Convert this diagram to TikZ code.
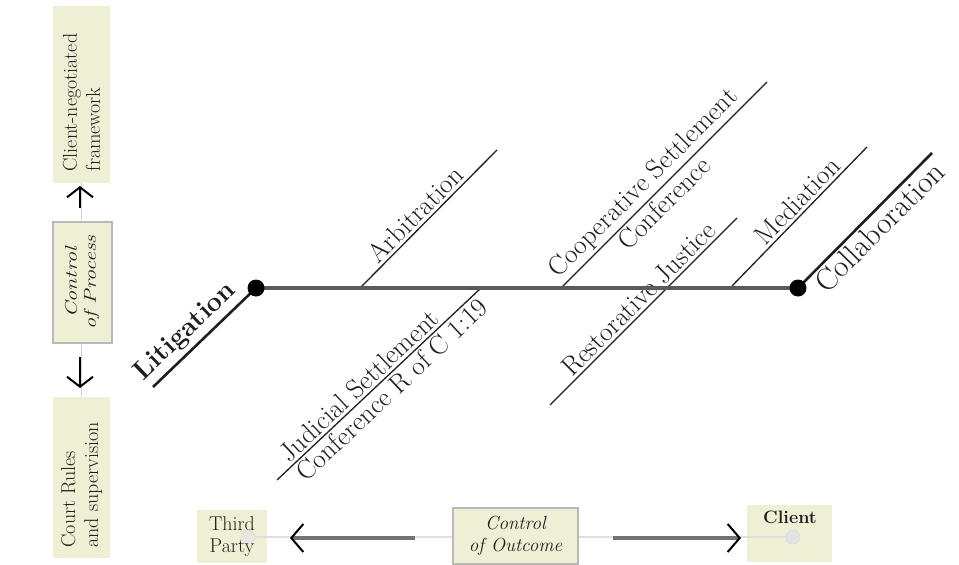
\documentclass[tikz,border=0pt]{standalone}
\usetikzlibrary{arrows.meta}
\definecolor{boxfill}{RGB}{239,239,213}
\definecolor{mainln}{RGB}{90,90,90}
\definecolor{inkc}{RGB}{30,30,30}
\begin{document}
\begin{tikzpicture}[x=1pt,y=-1pt,
  diag/.style={draw=inkc, line width=1.3pt},
  heavy/.style={draw=inkc, line width=2.6pt},
  lbl/.style={font=\fontsize{27}{29}\selectfont, text=inkc, inner sep=2.5pt, sloped},
  dotnode/.style={circle, fill=black, inner sep=0pt, minimum size=17pt},
  plainbox/.style={fill=boxfill, inner sep=0pt},
  framebox/.style={fill=boxfill, draw=gray!55, line width=1.5pt, inner sep=0pt},
  vtext/.style={font=\fontsize{20}{23}\selectfont, text=inkc},
  btext/.style={font=\fontsize{20}{22}\selectfont, text=inkc, align=center},
  faint/.style={draw=gray!35, line width=1.8pt},
  blackarrow/.style={draw=black, line width=2pt, -{Straight Barb[length=10pt,width=26pt,line width=2pt]}},
  outarrow/.style={draw=black!55, line width=4pt, -{Straight Barb[black,length=12pt,width=28pt,line width=2pt]}},
  softdot/.style={circle, fill=gray!22, draw=gray!30, line width=0.6pt, inner sep=0pt, minimum size=14pt}
]
\useasboundingbox (0,0) rectangle (959,565);

% ---------- diagonal branches ----------
\coordinate (litA) at (153,387);
\coordinate (Lc) at (256,288);
\coordinate (Cc) at (798,288);
\coordinate (colB) at (932,153);
\coordinate (arbA) at (360,288);
\coordinate (arbB) at (497,150);
\coordinate (coopA) at (561,288);
\coordinate (coopB) at (767,82);
\coordinate (judA) at (277,480);
\coordinate (judB) at (481,288);
\coordinate (resA) at (550,405);
\coordinate (resB) at (737,218);
\coordinate (medA) at (732,286);
\coordinate (medB) at (867,147);

\draw[heavy] (litA) -- (Lc)
  node[lbl, pos=0.43, above, inner sep=4pt, font=\fontsize{27}{29}\selectfont\bfseries] (litlbl) {Litigation};
\draw[heavy] (Cc) -- (colB)
  node[lbl, pos=0.53, below, font=\fontsize{31}{33}\selectfont] (collbl) {Collaboration};
\draw[diag] (arbA) -- (arbB)
  node[lbl, pos=0.47, above] (arblbl) {Arbitration};
\draw[diag] (coopA) -- (coopB)
  node[lbl, pos=0.455, above] (cooplbl) {Cooperative Settlement}
  node[lbl, pos=0.455, below] (cooplbl2) {Conference};
\draw[diag] (judA) -- (judB)
  node[lbl, pos=0.06, anchor=south west] (judlbl) {Judicial Settlement}
  node[lbl, pos=0.06, anchor=north west] (judlbl2) {Conference R of C 1:19};
\draw[diag] (resA) -- (resB)
  node[lbl, pos=0.52, above] (reslbl) {Restorative Justice};
\draw[diag] (medA) -- (medB)
  node[lbl, pos=0.55, above] (medlbl) {Mediation};

% ---------- main axis ----------
\draw[draw=mainln, line width=3.5pt] (Lc) -- (Cc);
\node[dotnode] (L) at (Lc) {};
\node[dotnode] (C) at (Cc) {};

% ---------- left column: control of process ----------
\node[plainbox, rotate=90, minimum width=177pt, minimum height=57pt] (cnf) at (81.5,94.5) {};
\node[vtext, rotate=90, align=left, anchor=west] (cnftxt) at (81.5,175) {Client-negotiated\\framework};
\node[plainbox, rotate=90, minimum width=161pt, minimum height=57pt] (crs) at (81.5,477.5) {};
\node[vtext, rotate=90, align=left, anchor=west] (crstxt) at (81.5,551) {Court Rules\\and supervision};
\draw[faint] (cnf.west) -- (crs.east);
\node[framebox, rotate=90, minimum width=121pt, minimum height=59pt] (cop) at (82.5,282.5)
  {\fontsize{17}{19}\selectfont\itshape\color{inkc}\scalebox{1.3}[1]{\begin{tabular}{@{}c@{}}Control\\of Process\end{tabular}}};
\coordinate (upS) at (80,208);
\coordinate (upE) at (80,186);
\coordinate (dnS) at (80,357);
\coordinate (dnE) at (80,388);
\draw[blackarrow] (upS) -- (upE);
\draw[blackarrow] (dnS) -- (dnE);

% ---------- bottom row: control of outcome ----------
\node[plainbox, minimum width=70pt, minimum height=53pt] (tp) at (232,536.5) {};
\node[plainbox, minimum width=85pt, minimum height=57pt] (cl) at (789.5,533.5) {};
\node[softdot, opacity=0.6] (tpdot) at (248,537) {};
\node[softdot] (cldot) at (793,537) {};
\draw[faint, draw=gray!25, line width=2.5pt] (tpdot) -- (cldot);
\node[btext] (tptxt) at (tp) {Third\\Party};
\node[btext, font=\fontsize{18}{20}\selectfont\bfseries, anchor=north] (cltxt) at (790,507) {Client};
\node[framebox, minimum width=125pt, minimum height=56pt, align=center,
  font=\fontsize{19}{22}\selectfont\itshape, text=inkc] (coo) at (515.5,536) {Control\\of Outcome};
\coordinate (lS) at (415,538);
\coordinate (lE) at (290,538);
\coordinate (rS) at (613,538);
\coordinate (rE) at (741,538);
\draw[outarrow] (lS) -- (lE);
\draw[outarrow] (rS) -- (rE);
\end{tikzpicture}
\end{document}
